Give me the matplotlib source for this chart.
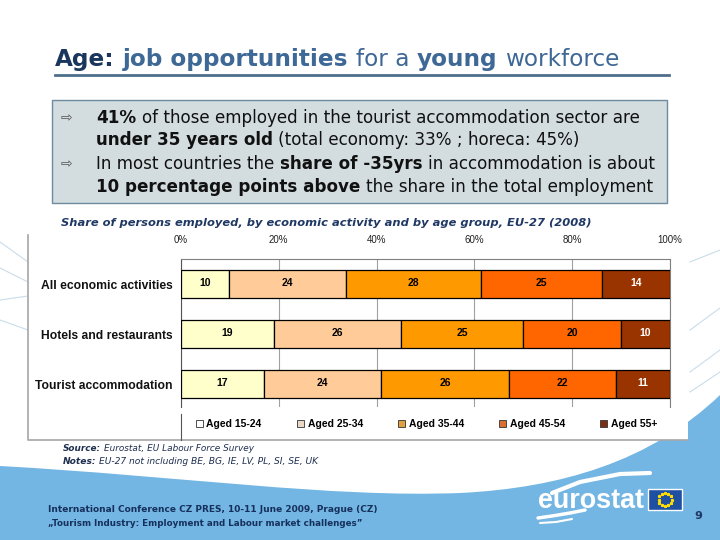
import numpy as np
import matplotlib.pyplot as plt
import matplotlib.transforms as mtransforms
from matplotlib.patches import Rectangle, PathPatch, Patch
from matplotlib.path import Path
from matplotlib.lines import Line2D

categories = ["All economic activities", "Hotels and restaurants", "Tourist accommodation"]
age_groups = ["Aged 15-24", "Aged 25-34", "Aged 35-44", "Aged 45-54", "Aged 55+"]
aged_15_24 = [10, 19, 17]
aged_25_34 = [24, 26, 24]
aged_35_44 = [28, 25, 26]
aged_45_54 = [25, 20, 22]
aged_55_plus = [14, 10, 11]
tick_values = [0, 20, 40, 60, 80, 100]
tick_labels = ["0%", "20%", "40%", "60%", "80%", "100%"]

series = [aged_15_24, aged_25_34, aged_35_44, aged_45_54, aged_55_plus]
colors = ["#FFFFCC", "#FFCC99", "#FF9900", "#FF6600", "#993300"]
legend_colors = ["#FFFFFF", "#EAD9C8", "#E0A040", "#D8702E", "#7A2E14"]
text_colors = ["black", "black", "black", "black", "white"]

W, H = 720, 540
fig = plt.figure(figsize=(7.2, 5.4), dpi=100)
# pixel coordinates, origin top-left
T = mtransforms.Affine2D().scale(1 / W, -1 / H).translate(0, 1) + fig.transFigure
rend = fig.canvas.get_renderer()

# blue wave at the bottom
verts = [(0, 466), (180, 476), (330, 498), (460, 493),
         (560, 488), (650, 462), (720, 395),
         (720, 540), (0, 540), (0, 466)]
codes = [Path.MOVETO, Path.CURVE4, Path.CURVE4, Path.CURVE4,
         Path.CURVE4, Path.CURVE4, Path.CURVE4,
         Path.LINETO, Path.LINETO, Path.CLOSEPOLY]
fig.add_artist(PathPatch(Path(verts, codes), transform=T, fc="#73B5E3", ec="none", zorder=0))

# faint swoosh lines in the background
for (x0, y0, x1, y1) in [(0, 242, 28, 262), (0, 268, 28, 282), (0, 300, 28, 296), (0, 320, 28, 330),
                         (690, 262, 720, 250), (690, 330, 720, 308), (690, 372, 720, 350),
                         (690, 392, 720, 372)]:
    fig.add_artist(Line2D([x0, x1], [y0, y1], transform=T, color="#C9DDEB", lw=0.8, zorder=0))

# chart frame
fig.add_artist(Rectangle((28, 233), 660, 207, transform=T, fc="white", ec="none", zorder=1))
fig.add_artist(Line2D([28, 28, 688], [235, 440, 440], transform=T, color="#A6A6A6", lw=1.2, zorder=2))
fig.add_artist(Line2D([181, 181], [414, 440], transform=T, color="#555555", lw=0.8, zorder=2))


def space_w(size, weight, style, family):
    a = fig.text(0, 0, "a a", fontsize=size, fontweight=weight, fontstyle=style, family=family)
    b = fig.text(0, 0, "aa", fontsize=size, fontweight=weight, fontstyle=style, family=family)
    w = a.get_window_extent(rend).width - b.get_window_extent(rend).width
    a.remove()
    b.remove()
    return w


def rich(x, y, runs, size, family="DejaVu Sans", fit=None, z=5):
    def draw(s):
        arts = []
        cx = x
        for i, (t, weight, style, color) in enumerate(runs):
            if i > 0:
                cx += space_w(s, weight, style, family)
            a = fig.text(cx, y, t, transform=T, fontsize=s, fontweight=weight,
                         fontstyle=style, color=color, family=family, va="baseline", zorder=z)
            bb = a.get_window_extent(rend)
            cx = bb.x1
            arts.append(a)
        return arts, cx - x
    arts, width = draw(size)
    if fit is not None:
        for a in arts:
            a.remove()
        arts, width = draw(size * fit / width)
    return arts


# title
navy = "#1B365D"
steel = "#3E6896"
rich(55, 66, [("Age:", "bold", "normal", navy), ("job opportunities", "bold", "normal", steel),
              ("for a", "normal", "normal", steel), ("young", "bold", "normal", steel),
              ("workforce", "normal", "normal", steel)], 16, fit=565)
fig.add_artist(Line2D([55, 669], [75, 75], transform=T, color="#4F6E8A", lw=2, zorder=3))

# text box
fig.add_artist(Rectangle((52, 100), 615, 103, transform=T, fc="#D3DDE0", ec="#6C8AA0", lw=1, zorder=2))
k = "#111111"
line1 = [("41%", "bold", "normal", k),
         ("of those employed in the tourist accommodation sector are", "normal", "normal", k)]
probe = rich(0, -100, line1, 11.5)
pw = probe[-1].get_window_extent(rend).x1 - probe[0].get_window_extent(rend).x0
for a in probe:
    a.remove()
fs_box = 11.5 * 547 / pw
rich(96, 123, line1, fs_box)
rich(96, 145, [("under 35 years old", "bold", "normal", k),
               ("(total economy: 33% ; horeca: 45%)", "normal", "normal", k)], fs_box)
rich(96, 169, [("In most countries the", "normal", "normal", k), ("share of -35yrs", "bold", "normal", k),
               ("in accommodation is about", "normal", "normal", k)], fs_box)
rich(96, 192, [("10 percentage points above", "bold", "normal", k),
               ("the share in the total employment", "normal", "normal", k)], fs_box)
for yy in [118, 164]:
    fig.text(66, yy, "\u21e8", transform=T, fontsize=10, color="#555555", ha="center", va="center",
             family="DejaVu Sans", zorder=5)

# chart title
rich(61, 226, [("Share of persons employed, by economic activity and by age group, EU-27 (2008)",
                "bold", "italic", "#1F3864")], 9, fit=531)

# bar chart
ax = fig.add_axes([181 / W, 1 - 407 / H, (670 - 181) / W, (407 - 259) / H], zorder=4)
ax.set_facecolor("none")
y = np.arange(len(categories))
totals = np.sum(series, axis=0)
left = np.zeros(len(categories))
for vals, c, tc, lab in zip(series, colors, text_colors, age_groups):
    share = np.array(vals) / totals * 100
    bars = ax.barh(y, share, left=left, height=0.56, color=c, edgecolor="black", linewidth=0.9,
                   label=lab, zorder=3)
    for b, v in zip(bars, vals):
        ax.text(b.get_x() + b.get_width() / 2, b.get_y() + b.get_height() / 2 - 0.03, str(v),
                ha="center", va="center", fontsize=7.5, fontweight="bold", color=tc,
                family="Liberation Sans", zorder=4)
    left += share

ax.set_xlim(0, 100)
ax.set_ylim(2.46, -0.51)
ax.xaxis.tick_top()
ax.set_xticks(tick_values)
ax.set_xticklabels(tick_labels)
ax.set_yticks(y)
ax.set_yticklabels(categories)
ax.tick_params(axis="x", length=0, pad=10, labelsize=7, labelcolor="#222222")
ax.tick_params(axis="y", length=0, pad=6, labelsize=8.7, labelcolor="#111111")
for lab in ax.get_xticklabels():
    lab.set_family("Liberation Sans")
for lab in ax.get_yticklabels():
    lab.set_family("Liberation Sans")
    lab.set_fontweight("bold")
ax.grid(axis="x", color="#A0A0A0", linewidth=0.8, zorder=0)
ax.set_axisbelow(True)
ax.spines["bottom"].set_visible(False)
ax.spines["left"].set_color("#555555")
ax.spines["top"].set_color("#808080")
ax.spines["right"].set_color("#808080")

leg_handles = [Patch(facecolor=c, edgecolor="#333333", linewidth=0.6) for c in legend_colors]
leg = fig.legend(leg_handles, age_groups, ncol=5, loc="center left",
                 bbox_to_anchor=(196 / W, 1 - 424 / H), bbox_transform=fig.transFigure,
                 frameon=False, borderpad=0, borderaxespad=0, handlelength=0.65, handleheight=0.65,
                 handletextpad=0.35, columnspacing=3.4,
                 prop={"family": "Liberation Sans", "weight": "bold", "size": 7.5})
leg.set_zorder(5)

# source
rich(63, 451, [("Source:", "bold", "italic", "#1F2F50"), ("Eurostat, EU Labour Force Survey", "normal", "italic", "#1F2F50")],
     7, fit=191)
rich(63, 464, [("Notes:", "bold", "italic", "#1F2F50"),
               ("EU-27 not including BE, BG, IE, LV, PL, SI, SE, UK", "normal", "italic", "#1F2F50")], 7, fit=257)

# footer
rich(48, 512, [("International Conference CZ PRES, 10-11 June 2009, Prague (CZ)", "bold", "normal", "#16305C")],
     7.5, fit=331)
rich(48, 526, [("\u201eTourism Industry: Employment and Labour market challenges\u201d", "bold", "normal", "#16305C")],
     7.5, fit=314)

# eurostat logo
fig.add_artist(Line2D([552, 580, 620, 650], [493, 482, 474, 473], transform=T, color="white", lw=3,
                      solid_capstyle="round", zorder=3))
fig.add_artist(Line2D([538, 552, 570, 585], [518, 516, 513, 510], transform=T, color="white", lw=2.5,
                      solid_capstyle="round", zorder=3))
fig.add_artist(Line2D([540, 556, 572], [523, 522, 519], transform=T, color="white", lw=1.5,
                      solid_capstyle="round", zorder=3))
rich(538, 508, [("eurostat", "bold", "normal", "white")], 18, family="Liberation Sans", fit=106)
fig.add_artist(Rectangle((648, 489), 34, 21, transform=T, fc="#1F4FA0", ec="white", lw=1, zorder=3))
ang = np.linspace(0, 2 * np.pi, 12, endpoint=False)
fig.add_artist(Line2D(665 + 6.5 * np.cos(ang), 499.5 + 6.5 * np.sin(ang), transform=T, ls="none",
                      marker="*", ms=2, color="#FFDD00", zorder=4))
fig.text(698, 516, "9", transform=T, fontsize=8, fontweight="bold", color="#1F3864",
         ha="center", va="center", zorder=5)

fig.savefig("out.png", dpi=100)
